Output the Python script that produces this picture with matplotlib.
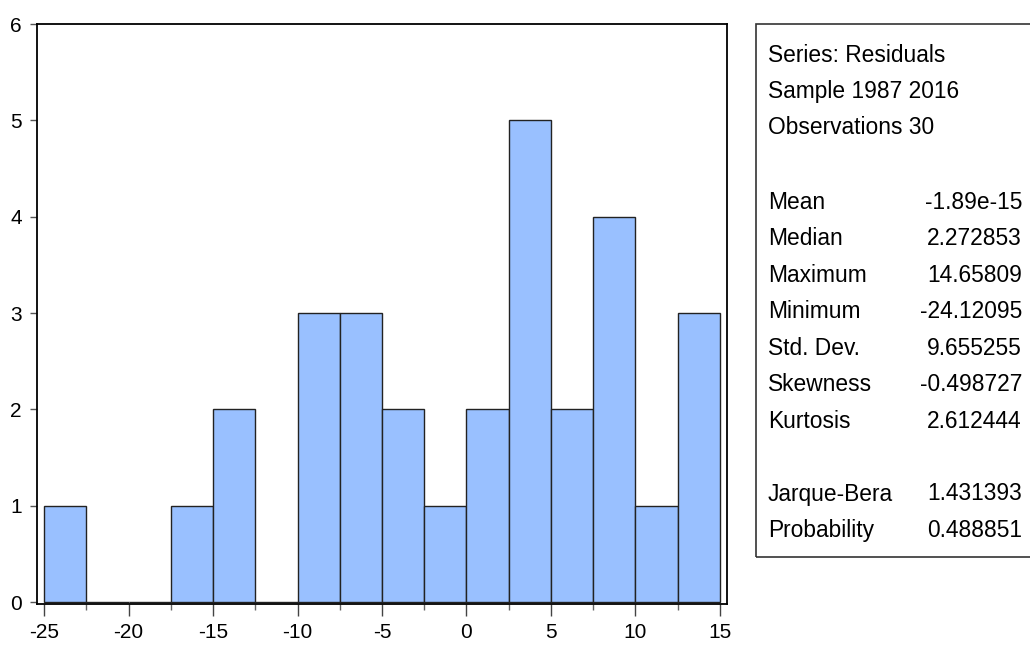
import matplotlib
matplotlib.use("Agg")
import matplotlib.pyplot as plt
from matplotlib import font_manager

bin_edges = [-25, -22.5, -20, -17.5, -15, -12.5, -10, -7.5, -5, -2.5, 0, 2.5, 5, 7.5, 10, 12.5, 15]
counts = [1, 0, 0, 1, 2, 0, 3, 3, 2, 1, 2, 5, 2, 4, 1, 3]
xticks = [-25, -20, -15, -10, -5, 0, 5, 10, 15]
yticks = [0, 1, 2, 3, 4, 5, 6]

header_lines = ["Series: Residuals", "Sample 1987 2016", "Observations 30"]
stat_names = ["Mean", "Median", "Maximum", "Minimum", "Std. Dev.", "Skewness", "Kurtosis"]
stat_values = ["-1.89e-15", "2.272853", "14.65809", "-24.12095", "9.655255", "-0.498727", "2.612444"]
test_names = ["Jarque-Bera", "Probability"]
test_values = ["1.431393", "0.488851"]

available = {f.name for f in font_manager.fontManager.ttflist}
fam = ["Liberation Sans Narrow", "Liberation Sans", "DejaVu Sans"]
fam = [f for f in fam if f in available] or ["DejaVu Sans"]
plt.rcParams['font.family'] = fam

fig = plt.figure(figsize=(10.3, 6.48), dpi=100)
ax = fig.add_axes([37/1030, 1-604/648, (727-37)/1030, (604-24)/648])

widths = [bin_edges[i+1]-bin_edges[i] for i in range(len(counts))]
ax.bar(bin_edges[:-1], counts, width=widths, align='edge', color='#99C0FF',
       edgecolor='#222222', linewidth=1.0)

ax.set_xlim(-25.42, 15.42)
ax.set_ylim(-0.02, 6)
ax.set_xticks(xticks)
ax.set_xticklabels([str(t) for t in xticks])
ax.set_xticks(bin_edges, minor=True)
ax.set_yticks(yticks)
ax.set_yticklabels([str(t) for t in yticks])
ax.tick_params(axis='x', which='major', direction='out', length=8.5, width=1.0,
               labelsize=15, color='#444444', pad=5)
ax.tick_params(axis='x', which='minor', direction='out', length=4.5, width=1.0, color='#666666')
ax.tick_params(axis='y', which='major', direction='out', length=5, width=1.0,
               labelsize=15, color='#555555', pad=6)
for s in ax.spines.values():
    s.set_linewidth(1.3)
    s.set_color('black')

# stats box
box = plt.Rectangle((756/1030, 1-557/648), (1040-756)/1030, (557-24)/648,
                    transform=fig.transFigure, fill=False, edgecolor='#333333', linewidth=1.2)
fig.patches.append(box)

xl = 768/1030
xr = 1022/1030
fs = 16.4
y0 = 55
step = 36.5
for i, t in enumerate(header_lines):
    fig.text(xl, 1-(y0+i*step)/648, t, ha='left', va='center', fontsize=fs)
y1 = 202
for i, (n, v) in enumerate(zip(stat_names, stat_values)):
    y = 1-(y1+i*step)/648
    fig.text(xl, y, n, ha='left', va='center', fontsize=fs)
    fig.text(xr, y, v, ha='right', va='center', fontsize=fs)
y2 = 494
for i, (n, v) in enumerate(zip(test_names, test_values)):
    y = 1-(y2+i*step)/648
    fig.text(xl, y, n, ha='left', va='center', fontsize=fs)
    fig.text(xr, y, v, ha='right', va='center', fontsize=fs)

fig.savefig("out.png", dpi=100)
